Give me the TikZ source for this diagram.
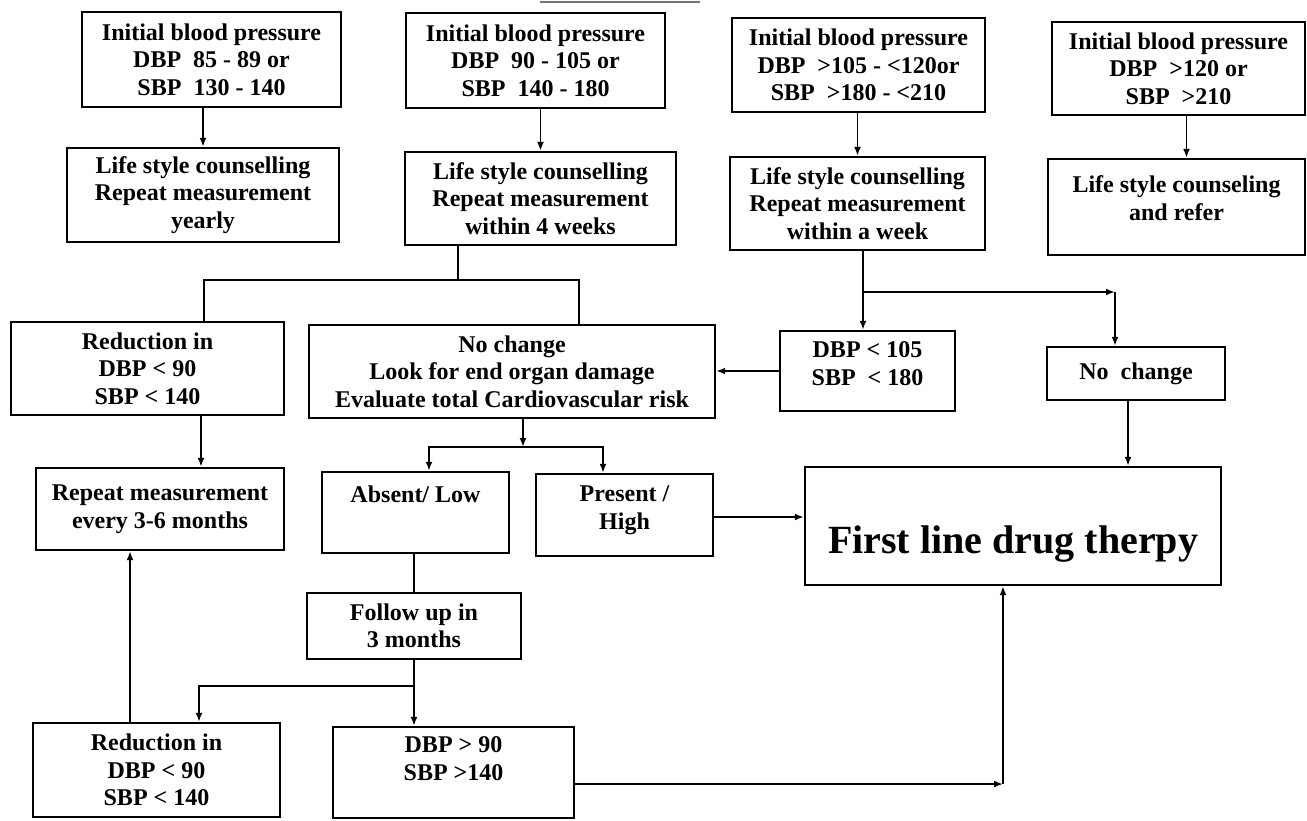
\documentclass[tikz,border=0pt]{standalone}
\usepackage{fontspec}
\setmainfont{Liberation Serif}
\usetikzlibrary{arrows.meta,calc}
\begin{document}
\begin{tikzpicture}[x=1pt,y=-1pt,
  box/.style={draw, line width=2.4pt, inner sep=2pt, align=center,
    font=\bfseries\fontsize{24}{27.5}\selectfont},
  conn/.style={line width=1.9pt},
  arr/.style={conn, -{Latex[length=9pt,width=7pt]}}]
\useasboundingbox[fill=white] (0,0) rectangle (1307,820);
\draw[line width=1.2pt, black!55] (540,2) -- (700,2);
% row 1
\node[box, minimum width=259pt, minimum height=95pt] (B1) at (211.5,59.5)
  {Initial blood pressure\\DBP~~85 - 89 or\\SBP~~130 - 140};
\node[box, minimum width=259pt, minimum height=95pt] (B2) at (535.5,60.5)
  {Initial blood pressure\\DBP~~90 - 105 or\\SBP~~140 - 180};
\node[box, minimum width=253pt, minimum height=94pt] (B3) at (858.5,65)
  {Initial blood pressure\\DBP~~>105 - <120or\\SBP~~>180 - <210};
\node[box, minimum width=253pt, minimum height=93pt] (B4) at (1178.5,68.5)
  {Initial blood pressure\\DBP~~>120 or\\SBP~~>210};
% row 2
\node[box, minimum width=272pt, minimum height=94pt] (L1) at (203,195)
  {Life style counselling\\Repeat measurement\\yearly};
\node[box, minimum width=271pt, minimum height=93pt] (L2) at (540.5,198.5)
  {Life style counselling\\Repeat measurement\\within 4 weeks};
\node[box, minimum width=255pt, minimum height=93pt] (L3) at (857.5,203.5)
  {Life style counselling\\Repeat measurement\\within a week};
\node[box, minimum width=257pt, minimum height=96pt] (L4) at (1176.5,207)
  {Life style counseling\\and refer\\[-10pt]\mbox{}};
% row 3
\node[box, minimum width=273pt, minimum height=93pt] (R1) at (147.5,368.5)
  {Reduction in\\DBP < 90\\SBP < 140};
\node[box, minimum width=406pt, minimum height=93pt] (NC) at (512,371.5)
  {No change\\Look for end organ damage\\Evaluate total Cardiovascular risk};
\node[box, minimum width=175pt, minimum height=80pt] (D105) at (867.5,371)
  {DBP < 105\\SBP~~< 180\\[-13pt]\mbox{}};
\node[box, minimum width=178pt, minimum height=53pt] (NC2) at (1136,373.5)
  {No~~change};
% row 4
\node[box, minimum width=248pt, minimum height=82pt] (RM) at (160,509)
  {Repeat measurement\\every 3-6 months};
\node[box, minimum width=187pt, minimum height=81pt] (AL) at (415.5,512.5)
  {Absent/ Low\\[10pt]\mbox{}};
\node[box, minimum width=177pt, minimum height=82pt] (PH) at (624.5,515)
  {Present /\\High\\[-13pt]\mbox{}};
\node[box, minimum width=416pt, minimum height=118pt, text height=64pt, text depth=10pt,
  font=\bfseries\fontsize{40}{46}\selectfont] (FL) at (1013,526)
  {First line drug therpy};
% row 5
\node[box, minimum width=214pt, minimum height=66pt] (FU) at (414,626)
  {Follow up in\\3 months};
\node[box, minimum width=247pt, minimum height=94pt] (R2) at (156.5,770)
  {Reduction in\\DBP < 90\\SBP < 140};
\node[box, minimum width=241pt, minimum height=91pt] (D90) at (453.5,772.5)
  {DBP > 90\\SBP >140\\\mbox{}};
% connectors
\draw[arr] (B1.south -| L1.north) -- (L1.north);
\draw[arr] (B2.south -| L2.north) -- (L2.north);
\draw[arr] (B3.south -| L3.north) -- (L3.north);
\draw[arr] ([xshift=8pt]B4.south) -- ([xshift=8pt]B4.south |- L4.north);
\coordinate (s1) at (458,280);
\draw[conn] (L2.south -| s1) -- (s1);
\draw[conn] (s1) -- (204,280) -- (204,0 |- R1.north);
\draw[conn] (s1) -- (579,280) -- (579,0 |- NC.north);
\coordinate (s2) at (863,292);
\draw[arr] (L3.south -| s2) -- (s2 |- D105.north);
\coordinate (s3) at (1115,292);
\draw[arr] (s2) -- (s3);
\draw[arr] (s3) -- (s3 |- NC2.north);
\draw[arr] (D105.west) -- (D105.west -| NC.east);
\draw[arr] (1128,0 |- NC2.south) -- (1128,0 |- FL.north);
\coordinate (s4) at (523,447);
\draw[arr] (NC.south -| s4) -- (s4);
\draw[arr] (s4) -- (429,447) -- (429,0 |- AL.north);
\draw[arr] (s4) -- (603,447) -- (603,0 |- PH.north);
\draw[arr] (PH.east |- 0,517) -- (FL.west |- 0,517);
\draw[arr] (201,0 |- R1.south) -- (201,0 |- RM.north);
\draw[conn] (AL.south -| FU.north) -- (FU.north);
\coordinate (s5) at (414,686);
\draw[conn] (FU.south) -- (s5);
\draw[arr] (s5) -- (s5 |- D90.north);
\draw[arr] (s5) -- (199,686) -- (199,0 |- R2.north);
\draw[arr] (130,0 |- R2.north) -- (130,0 |- RM.south);
\coordinate (s6) at (1003,784);
\draw[arr] (D90.east |- s6) -- (s6);
\draw[arr] (s6) -- (s6 |- FL.south);
\end{tikzpicture}
\end{document}
